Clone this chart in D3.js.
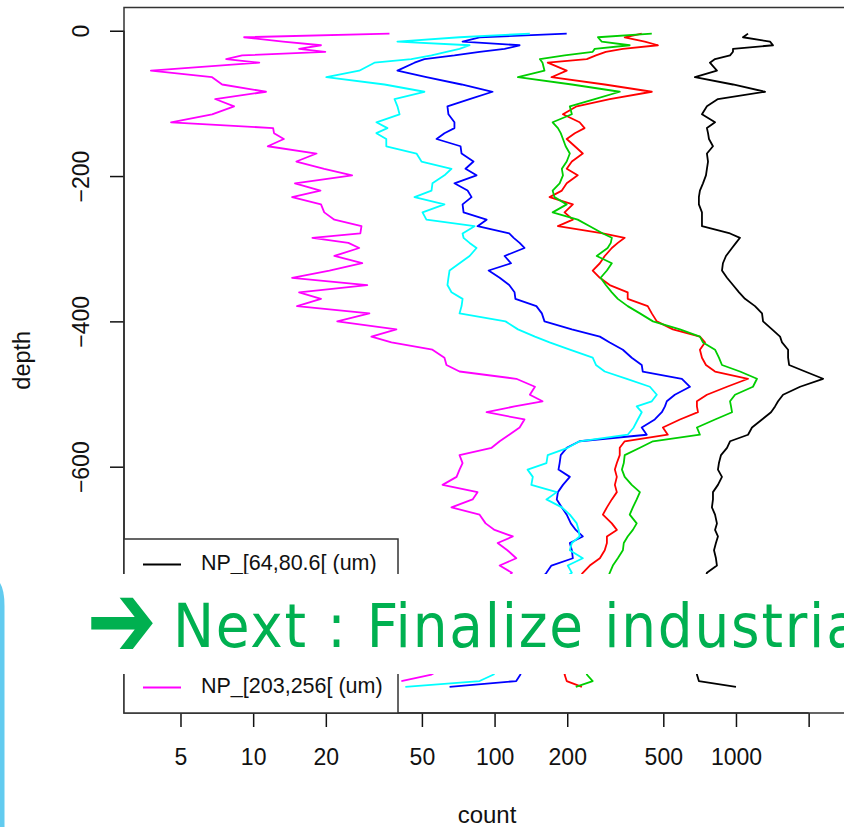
<!DOCTYPE html>
<html>
<head>
<meta charset="utf-8">
<script src="https://cdn.jsdelivr.net/npm/d3@7"></script>
<style>
  body { margin: 0; background: #fff; }
  svg { display: block; }
</style>
</head>
<body>
<svg width="844" height="827"></svg>
<script>
// depth of each sample (same grid for every size class)
const depth = [
  -4, -9, -15, -20, -25, -29, -34, -39, -44, -55,
  -64, -74, -84, -94, -104, -115, -126, -134, -141, -149,
  -159, -169, -180, -190, -199, -210, -220, -229, -239, -250,
  -260, -269, -279, -285, -292, -299, -310, -320, -330, -340,
  -350, -360, -369, -379, -389, -400, -411, -421, -429, -439,
  -450, -460, -469, -479, -490, -501, -510, -517, -525, -535,
  -546, -556, -565, -574, -584, -595, -604, -614, -625, -635,
  -645, -656, -666, -678, -687, -696, -705, -715, -726, -736,
  -746, -756, -766, -776, -786, -796, -806, -816, -826, -836,
  -846, -856, -866, -876, -886, -895, -903
];

const np64 = [
  1122, 1069, 1384, 1424, 972, 972, 945, 819, 780, 834,
  676, 972, 1320, 842, 758, 723, 819, 758, 766, 773,
  803, 758, 766, 758, 751, 730, 709, 702, 702, 723,
  723, 723, 945, 1039, 1000, 963, 909, 883, 875, 918,
  972, 1030, 1090, 1199, 1282, 1295, 1411, 1523, 1552, 1644,
  1644, 1660, 1933, 2296, 1843, 1567, 1494, 1452, 1397, 1282,
  1165, 1122, 945, 918, 867, 850, 842, 875, 842, 803,
  803, 795, 819, 834, 819, 842, 826, 811, 826, 834,
  758, 744, 780, 730, 766, 709, 751, 723, 696, 737,
  709, 689, 716, 696, 689, 702, 1000
];
const np80 = [
  407, 346, 419, 475, 340, 289, 263, 241, 166, 199,
  172, 286, 448, 300, 219, 192, 225, 236, 215, 199,
  215, 232, 209, 199, 221, 199, 190, 169, 211, 195,
  211, 183, 281, 346, 324, 306, 286, 273, 255, 273,
  300, 356, 356, 431, 448, 470, 548, 709, 744, 709,
  723, 751, 819, 1122, 918, 758, 689, 689, 696, 586,
  498, 522, 346, 330, 330, 321, 315, 321, 315, 321,
  306, 292, 281, 306, 321, 292, 292, 286, 273, 248,
  232, 221, 209, 225, 215, 205, 213, 197, 205, 215,
  201, 209, 197, 203, 195, 199, 230
];
const np102 = [
  448, 268, 278, 363, 260, 255, 195, 154, 158, 161,
  125, 209, 330, 260, 205, 209, 174, 183, 188, 192,
  197, 205, 199, 190, 192, 186, 174, 177, 199, 174,
  221, 248, 281, 306, 303, 294, 265, 306, 292, 275,
  289, 306, 324, 356, 400, 453, 586, 709, 730, 819,
  850, 875, 1039, 1222, 1176, 991, 945, 954, 963, 819,
  689, 709, 453, 400, 346, 343, 337, 346, 370, 400,
  388, 374, 363, 388, 374, 356, 343, 340, 324, 309,
  300, 292, 278, 294, 268, 273, 263, 253, 268, 248,
  258, 243, 253, 248, 241, 255, 217
];
const np128 = [
  199, 86.7, 73.7, 127, 110, 86.7, 68.2, 51.2, 46.6, 39.6,
  52.2, 73.0, 98.1, 78.8, 63.8, 64.4, 68.2, 68.2, 62.0, 57.5,
  72.3, 73.0, 81.8, 75.8, 84.2, 68.2, 77.3, 80.3, 73.7, 74.4,
  92.7, 85.0, 115, 120, 127, 133, 110, 117, 94.5, 105,
  115, 121, 122, 149, 157, 161, 209, 273, 300, 340,
  370, 407, 411, 597, 645, 558, 517, 508, 493, 461,
  407, 427, 225, 199, 188, 186, 184, 205, 192, 183,
  181, 190, 199, 207, 217, 232, 205, 209, 211, 172,
  164, 154, 166, 147, 140, 151, 137, 142, 127, 133,
  140, 125, 132, 129, 128, 123, 65.1
];
const np161 = [
  140, 71.6, 39.6, 78.8, 71.6, 63.2, 54.8, 45.2, 31.8, 27.5,
  20.1, 35.0, 51.2, 38.5, 39.6, 40.4, 32.4, 36.0, 32.4, 35.6,
  35.6, 47.5, 49.8, 66.3, 62.0, 55.3, 54.8, 46.6, 62.0, 50.3,
  52.2, 82.6, 73.7, 74.4, 78.8, 84.2, 78.8, 71.6, 65.1, 64.4,
  63.8, 66.3, 73.7, 73.0, 71.6, 111, 125, 147, 169, 205,
  255, 263, 286, 353, 440, 470, 448, 388, 407, 392,
  377, 356, 225, 201, 166, 164, 137, 144, 142, 181,
  164, 190, 205, 219, 223, 225, 209, 205, 232, 201,
  209, 190, 177, 186, 166, 154, 161, 142, 133, 140,
  121, 113, 118, 105, 99.1, 86.7, 42.7
];
const np203 = [
  36.7, 9.17, 13.3, 19.1, 15.5, 19.9, 9.0, 7.73, 10.6, 3.77,
  6.76, 7.44, 11.3, 6.96, 8.34, 6.76, 4.57, 12.1, 12.2, 13.4,
  11.5, 18.3, 15.1, 19.7, 25.7, 14.9, 19.0, 14.5, 19.1, 19.7,
  21.7, 28.1, 27.8, 17.6, 24.8, 27.5, 21.7, 28.3, 20.7, 14.5,
  29.7, 15.5, 19.1, 15.2, 30.3, 22.3, 39.2, 30.9, 37.4, 55.3,
  62.0, 63.2, 71.6, 123, 147, 140, 158, 121, 92.7, 133,
  127, 115, 105, 97.2, 71.6, 73.7, 71.6, 69.6, 60.9, 85.0,
  81.1, 66.3, 86.7, 91.8, 100, 119, 103, 113, 123, 105,
  118, 110, 103, 115, 100, 93.5, 105, 86.7, 80.3, 90.9,
  75.1, 68.2, 73.0, 62.0, 54.8, 41.1, null
];

const seriesNames = [
  'NP_[64,80.6[ (um)', 'NP_[80.6,102[ (um)', 'NP_[102,128[ (um)',
  'NP_[128,161[ (um)', 'NP_[161,203[ (um)', 'NP_[203,256[ (um)'
];
const seriesValues = [np64, np80, np102, np128, np161, np203];
const colors = ['#000000', '#ff0000', '#00cd00', '#0000ff', '#00ffff', '#ff00ff'];

const xTicks = [5, 10, 20, 50, 100, 200, 500, 1000, 2000];
const xTickLabels = ['5', '10', '20', '50', '100', '200', '500', '1000', ''];
const yTicks = [0, -200, -400, -600, -800];

const slideText = 'Next : Finalize industrial';

const svg = d3.select('svg');
const width = 844;
const height = 827;
const box = { left: 124, right: 850, top: 7.5, bottom: 713 };
const rFont = '"Liberation Sans", Arial, sans-serif';
const ink = '#111';

svg.append('rect').attr('width', width).attr('height', height).attr('fill', '#fff');

// R style axis limits: data range padded by 4%
const counts = seriesValues.flat().filter(v => v != null);
const lx = d3.extent(counts).map(Math.log10);
const xPad = (lx[1] - lx[0]) * 0.04;
const x = d3.scaleLog()
  .domain([10 ** (lx[0] - xPad), 10 ** (lx[1] + xPad)])
  .range([box.left, box.right]);

const dy = d3.extent(depth);
const yPad = (dy[1] - dy[0]) * 0.04;
const y = d3.scaleLinear()
  .domain([dy[0] - yPad, dy[1] + yPad])
  .range([box.bottom, box.top]);

const defs = svg.append('defs');
defs.append('clipPath').attr('id', 'plotclip')
  .append('rect')
  .attr('x', box.left).attr('y', box.top)
  .attr('width', box.right - box.left).attr('height', box.bottom - box.top);

const series = seriesValues.map((vals, i) => ({
  name: seriesNames[i],
  color: colors[i],
  points: vals.map((c, j) => ({ c: c, d: depth[j] }))
}));

const line = d3.line()
  .defined(p => p.c != null)
  .x(p => x(p.c))
  .y(p => y(p.d));

svg.append('g')
  .attr('clip-path', 'url(#plotclip)')
  .selectAll('path')
  .data(series)
  .join('path')
  .attr('d', s => line(s.points))
  .attr('fill', 'none')
  .attr('stroke', s => s.color)
  .attr('stroke-width', 1.8)
  .attr('stroke-linejoin', 'round');

// axes
const xAxis = svg.append('g')
  .attr('transform', `translate(0,${box.bottom})`)
  .call(d3.axisBottom(x)
    .tickValues(xTicks)
    .tickFormat((d, i) => xTickLabels[i])
    .tickSize(14)
    .tickPadding(22));
xAxis.select('.domain').remove();
xAxis.append('line')
  .attr('x1', x(xTicks[0])).attr('x2', x(xTicks[xTicks.length - 1]))
  .attr('stroke', ink).attr('stroke-width', 1.5);

const yAxis = svg.append('g')
  .attr('transform', `translate(${box.left},0)`)
  .call(d3.axisLeft(y).tickValues(yTicks).tickSize(14));
yAxis.select('.domain').remove();
yAxis.append('line')
  .attr('y1', y(yTicks[0])).attr('y2', y(yTicks[yTicks.length - 1]))
  .attr('stroke', ink).attr('stroke-width', 1.5);
yAxis.selectAll('.tick text')
  .attr('transform', 'rotate(-90)')
  .attr('x', 0)
  .attr('y', -35)
  .attr('dy', 0)
  .attr('text-anchor', 'middle');

[xAxis, yAxis].forEach(a => {
  a.attr('font-family', rFont).attr('font-size', 23);
  a.selectAll('.tick line').attr('stroke', ink).attr('stroke-width', 1.5);
  a.selectAll('.tick text').attr('fill', ink);
});

svg.append('rect')
  .attr('x', box.left).attr('y', box.top)
  .attr('width', box.right - box.left).attr('height', box.bottom - box.top)
  .attr('fill', 'none').attr('stroke', '#333').attr('stroke-width', 1.5);

svg.append('text')
  .attr('x', (box.left + box.right) / 2).attr('y', 823)
  .attr('text-anchor', 'middle')
  .attr('font-family', rFont).attr('font-size', 24).attr('fill', ink)
  .text('count');

svg.append('text')
  .attr('transform', `translate(30,${(box.top + box.bottom) / 2}) rotate(-90)`)
  .attr('text-anchor', 'middle')
  .attr('font-family', rFont).attr('font-size', 23.5).attr('fill', ink)
  .text('depth');

// legend, bottom left
const legH = 174;
const legW = 274;
const rowH = 24.6;
const legend = svg.append('g')
  .attr('transform', `translate(${box.left},${box.bottom - legH})`);
legend.append('rect')
  .attr('width', legW).attr('height', legH)
  .attr('fill', '#fff').attr('stroke', '#333').attr('stroke-width', 1.5);
const entry = legend.selectAll('g.entry')
  .data(series)
  .join('g')
  .attr('class', 'entry')
  .attr('transform', (s, i) => `translate(0,${25.5 + i * rowH})`);
entry.append('line')
  .attr('x1', 19).attr('x2', 57)
  .attr('stroke', s => s.color).attr('stroke-width', 1.8);
entry.append('text')
  .attr('x', 77).attr('dy', '0.26em')
  .attr('font-family', rFont).attr('font-size', 21.5).attr('fill', ink)
  .text(s => s.name);

// slide overlay on top of the figure
svg.append('rect')
  .attr('x', 0).attr('y', 574).attr('width', width).attr('height', 100)
  .attr('fill', '#fff');
svg.append('path')
  .attr('d', 'M0,583 Q4.5,590 4.5,606 L4.5,827 L0,827 Z')
  .attr('fill', '#62cbef');

svg.append('text')
  .attr('transform', 'translate(86.6,657.4) scale(1,1.28)')
  .attr('font-family', '"DejaVu Sans"').attr('font-weight', 'bold')
  .attr('font-size', 84)
  .attr('fill', '#00b050')
  .text('➔');
svg.append('text')
  .attr('x', 173).attr('y', 647)
  .attr('font-family', '"DejaVu Sans Condensed", "DejaVu Sans"')
  .attr('font-stretch', 'condensed')
  .attr('letter-spacing', 1.8)
  .attr('font-size', 61)
  .attr('fill', '#00b050')
  .text(slideText);
</script>
</body>
</html>
